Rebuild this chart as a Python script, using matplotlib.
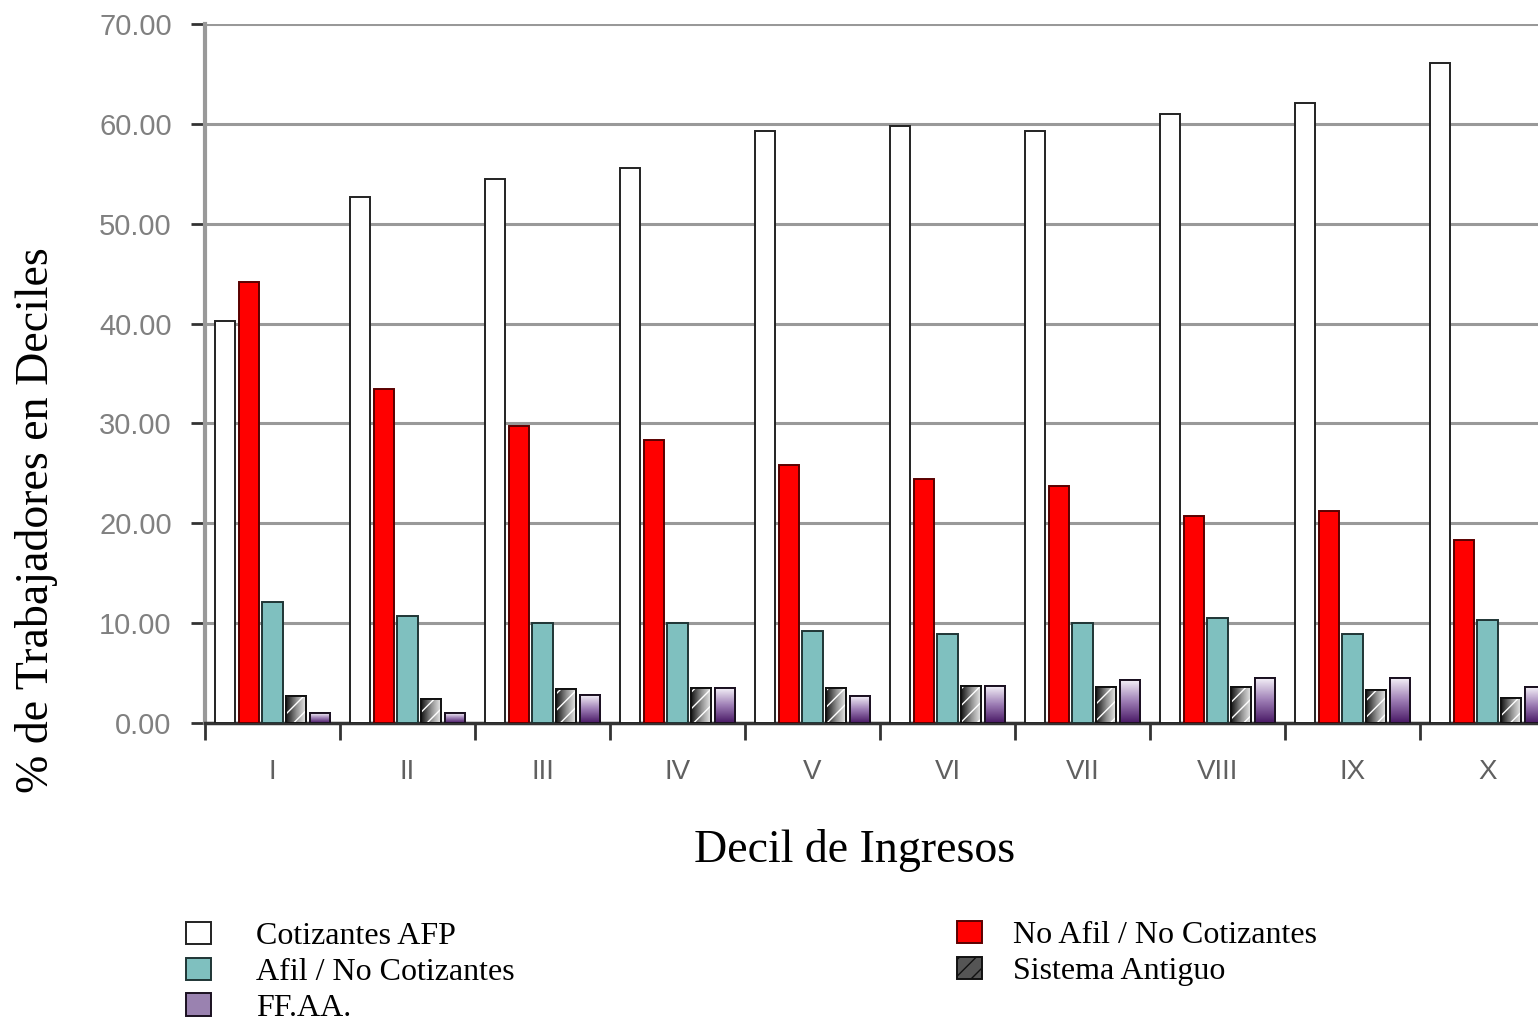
import matplotlib.pyplot as plt
import numpy as np
from matplotlib.colors import LinearSegmentedColormap

# Data
deciles = ['I', 'II', 'III', 'IV', 'V', 'VI', 'VII', 'VIII', 'IX', 'X']
cotizantes_afp = [40.3, 52.7, 54.5, 55.6, 59.3, 59.8, 59.3, 61.0, 62.1, 66.1]
no_afil = [44.2, 33.4, 29.7, 28.3, 25.8, 24.4, 23.7, 20.7, 21.2, 18.3]
afil_no_cot = [12.1, 10.7, 10.0, 10.0, 9.2, 8.9, 10.0, 10.5, 8.9, 10.3]
sistema_antiguo = [2.7, 2.4, 3.4, 3.5, 3.5, 3.7, 3.6, 3.6, 3.3, 2.5]
ffaa = [1.0, 1.0, 2.8, 3.5, 2.7, 3.7, 4.3, 4.5, 4.5, 3.6]

serif = 'Liberation Serif'
sans = 'Liberation Sans'

fig = plt.figure(figsize=(15.38, 10.26), dpi=100)
# axes runs past the right edge of the figure, like the cropped original
ax = fig.add_axes([205 / 1538, 303 / 1026, 1350 / 1538, 699 / 1026])

x = np.arange(len(deciles)) + 0.5
step = 0.175
w = 0.15

b1 = ax.bar(x - 2 * step, cotizantes_afp, w, color='white', edgecolor='#222222', linewidth=1.4, zorder=3)
b2 = ax.bar(x - step, no_afil, w, color='#ff0000', edgecolor='#5a0000', linewidth=1.4, zorder=3)
b3 = ax.bar(x, afil_no_cot, w, color='#7fc0bf', edgecolor='#1f3535', linewidth=1.4, zorder=3)
b4 = ax.bar(x + step, sistema_antiguo, w, color='#555555', edgecolor='#111111', linewidth=1.4,
            hatch='//', zorder=3)
b5 = ax.bar(x + 2 * step, ffaa, w, color='#9a82b0', edgecolor='#1a1020', linewidth=1.4, zorder=3)

# gradient fills for the two small series
purple = LinearSegmentedColormap.from_list('pur', ['#4a1a66', '#9c7cb4', '#f2eef6'])
greys = LinearSegmentedColormap.from_list('gry', ['#151515', '#909090', '#f0f0f0'])
for p in b5:
    x0, h = p.get_x(), p.get_height()
    im = ax.imshow(np.linspace(0, 1, 50).reshape(-1, 1), extent=(x0, x0 + w, 0, h),
                   origin='lower', cmap=purple, aspect='auto', zorder=3.5)
    im.set_clip_path(p)
for p in b4:
    x0, h = p.get_x(), p.get_height()
    im = ax.imshow(np.linspace(0, 1, 50).reshape(1, -1), extent=(x0, x0 + w, 0, h),
                   cmap=greys, aspect='auto', zorder=3.5)
    im.set_clip_path(p)
    ax.bar(p.get_x() + w / 2, h, w, fill=False, hatch='//', edgecolor='white', linewidth=0, zorder=3.6)
# redraw outlines on top of gradients
ax.bar(x + step, sistema_antiguo, w, fill=False, edgecolor='#111111', linewidth=1.4, zorder=3.8)
ax.bar(x + 2 * step, ffaa, w, fill=False, edgecolor='#1a1020', linewidth=1.4, zorder=3.8)

ax.set_xlim(0, 10)
ax.set_ylim(0, 70)
ax.set_yticks(np.arange(0, 71, 10))
ax.set_yticklabels([f'{v:.2f}' for v in np.arange(0, 71, 10)], fontfamily=sans, fontsize=21, color='#808080')
ax.set_xticks(np.arange(0, 11))
ax.set_xticklabels([])
ax.set_xticks(x, minor=True)
ax.set_xticklabels(deciles, minor=True, fontfamily=sans, fontsize=20, color='#606060')
ax.tick_params(axis='x', which='minor', length=0, pad=26)
ax.tick_params(axis='x', which='major', length=12, width=2, color='#333333', direction='out')
ax.tick_params(axis='y', length=10, width=2, color='#333333', direction='out', pad=14)

ax.yaxis.grid(True, color='#999999', linewidth=2.2, zorder=0)
ax.set_axisbelow(True)
for s in ['top', 'right']:
    ax.spines[s].set_visible(False)
ax.spines['left'].set_color('#999999')
ax.spines['left'].set_linewidth(3)
ax.spines['bottom'].set_color('#333333')
ax.spines['bottom'].set_linewidth(2.5)

ax.set_ylabel('% de Trabajadores en Deciles', fontfamily=serif, fontsize=33)
ax.yaxis.set_label_coords((58 - 205) / 1350, (723 - 520) / 699)
fig.text(855 / 1538, 1 - 850 / 1026, 'Decil de Ingresos', fontfamily=serif, fontsize=33,
         ha='center', va='center')

leg_kw = dict(frameon=False, prop={'family': serif, 'size': 23}, handlelength=0.8, handleheight=0.7,
              labelspacing=0.2, borderaxespad=0)
fig.legend([b1, b3, b5], ['Cotizantes AFP', 'Afil / No Cotizantes', 'FF.AA.'],
           loc='upper left', bbox_to_anchor=(173 / 1538, 1 - 909 / 1026), handletextpad=1.4, **leg_kw)
fig.legend([b2, b4], ['No Afil / No Cotizantes', 'Sistema Antiguo'],
           loc='upper left', bbox_to_anchor=(944 / 1538, 1 - 908 / 1026), handletextpad=0.95, **leg_kw)

fig.savefig('out.png', dpi=100)
